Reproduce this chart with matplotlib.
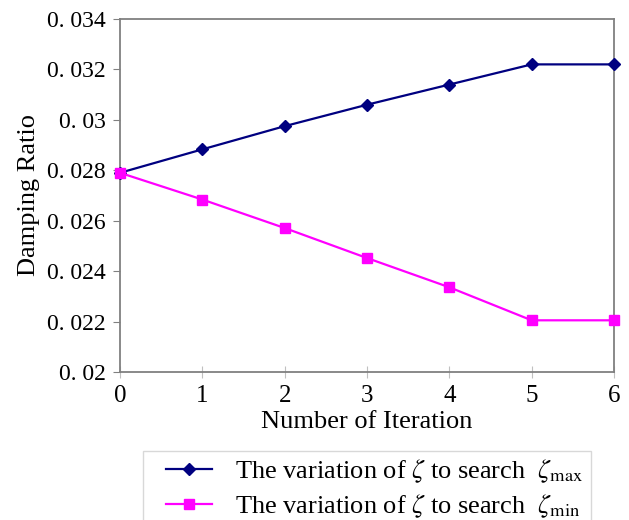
import matplotlib
matplotlib.use("Agg")
import matplotlib.pyplot as plt
from matplotlib.patches import Rectangle

iterations = [0, 1, 2, 3, 4, 5, 6]
zeta_max = [0.0279, 0.02883, 0.02975, 0.0306, 0.0314, 0.0322, 0.0322]
zeta_min = [0.0279, 0.02684, 0.02571, 0.02452, 0.02336, 0.02205, 0.02205]
y_ticks = [0.020, 0.022, 0.024, 0.026, 0.028, 0.030, 0.032, 0.034]
y_tick_labels = ["0. 02", "0. 022", "0. 024", "0. 026", "0. 028", "0. 03", "0. 032", "0. 034"]
label_max = r"The variation of $\zeta$ to search  $\zeta_{\mathrm{max}}$"
label_min = r"The variation of $\zeta$ to search  $\zeta_{\mathrm{min}}$"

plt.rcParams['font.family'] = ['Liberation Serif', 'DejaVu Serif']
plt.rcParams['mathtext.fontset'] = 'stix'

W, H = 629, 520
fig = plt.figure(figsize=(W/100, H/100), dpi=100)
ax = fig.add_axes([120/W, 1-372/H, (614-120)/W, (372-19)/H])

l1, = ax.plot(iterations, zeta_max, color='#000080', marker='D', markersize=6,
              linewidth=1.6, clip_on=False, zorder=3)
l2, = ax.plot(iterations, zeta_min, color='#FF00FF', marker='s', markersize=7,
              linewidth=1.6, clip_on=False, zorder=3)

ax.set_xlim(0, 6)
ax.set_ylim(0.02, 0.034)
ax.set_xticks(iterations)
ax.set_xticklabels([str(i) for i in iterations], fontsize=18)
ax.set_yticks(y_ticks)
ax.set_yticklabels(y_tick_labels, fontsize=17)

for s in ax.spines.values():
    s.set_color('#808080')
    s.set_linewidth(1.3)

ax.tick_params(axis='y', direction='out', length=5, color='#808080', pad=5)
ax.tick_params(axis='x', direction='inout', length=8, color='#c0c0c0', pad=5)

ax.set_xlabel("Number of Iteration", fontsize=19, labelpad=3)
ax.set_ylabel("Damping Ratio", fontsize=19, labelpad=5)

# legend frame (extends past bottom of figure, as in reference)
fig.patches.append(Rectangle((143/W, -0.05), (591-143)/W, (1-451/H)+0.05,
                             transform=fig.transFigure, facecolor='white',
                             edgecolor='#d8d8d8', linewidth=1.0, zorder=0))

leg = fig.legend([l1, l2], [label_max, label_min], loc='upper left',
                 bbox_to_anchor=(166/W, 1-457/H), fontsize=19,
                 frameon=False, handlelength=1.75, handletextpad=0.85,
                 borderpad=0.0, labelspacing=0.3, borderaxespad=0)

fig.savefig("out.png", dpi=100)
